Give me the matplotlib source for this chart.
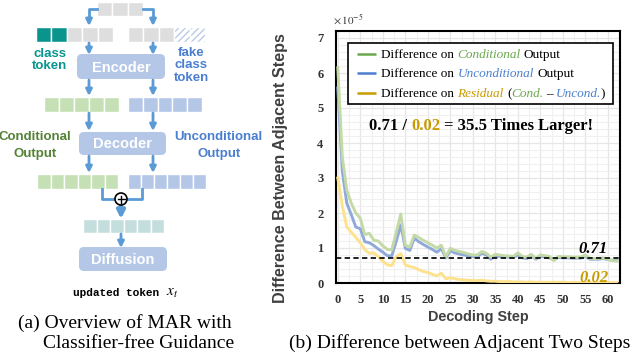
import numpy as np
import matplotlib
matplotlib.use('Agg')
import matplotlib.pyplot as plt
from matplotlib.patches import Rectangle, FancyBboxPatch, Circle

plt.rcParams['mathtext.fontset'] = 'stix'

# ---------------- data (values in units of 1e-5) ----------------
cond = [6.15, 3.60, 2.65, 2.28, 2.00, 1.85, 1.38, 1.42, 1.22, 1.20,
        1.06, 0.96, 0.95, 1.45, 1.97, 1.08, 1.03, 1.37, 1.30, 1.22,
        1.15, 1.08, 1.00, 1.08, 0.75, 0.99, 0.93, 0.90, 0.87, 0.83,
        0.80, 0.80, 0.90, 0.85, 0.74, 0.82, 0.80, 0.78, 0.77, 0.76,
        0.86, 0.76, 0.74, 0.82, 0.70, 0.80, 0.78, 0.76, 0.64, 0.76,
        0.75, 0.75, 0.74, 0.74, 0.74, 0.80, 0.70, 0.70, 0.70, 0.72,
        0.68, 0.64, 0.63]
uncond = [5.57, 3.20, 2.28, 1.95, 1.60, 1.55, 1.18, 1.15, 1.07, 0.97,
          0.88, 0.78, 0.78, 1.20, 1.66, 0.99, 0.93, 1.28, 1.18, 1.10,
          1.03, 0.96, 0.88, 0.98, 0.72, 0.92, 0.86, 0.83, 0.80, 0.78,
          0.76, 0.75, 0.85, 0.80, 0.68, 0.78, 0.76, 0.75, 0.74, 0.73,
          0.80, 0.72, 0.70, 0.78, 0.68, 0.76, 0.74, 0.72, 0.66, 0.73,
          0.72, 0.72, 0.71, 0.71, 0.71, 0.76, 0.68, 0.68, 0.68, 0.70,
          0.67, 0.65, 0.64]
resid = [3.00, 2.20, 1.60, 1.45, 1.30, 1.15, 0.95, 0.85, 0.86, 0.75,
         0.62, 0.52, 0.50, 0.75, 0.84, 0.52, 0.47, 0.44, 0.38, 0.33,
         0.30, 0.25, 0.20, 0.28, 0.12, 0.15, 0.12, 0.10, 0.09, 0.08,
         0.07, 0.07, 0.08, 0.06, 0.05, 0.05, 0.04, 0.04, 0.04, 0.03,
         0.03, 0.03, 0.02, 0.03, 0.02, 0.02, 0.02, 0.02, 0.02, 0.02,
         0.02, 0.015, 0.015, 0.015, 0.01, 0.015, 0.01, 0.01, 0.01, 0.01,
         0.01, 0.01, 0.01]
steps = list(range(len(cond)))
x_ticks = [0, 5, 10, 15, 20, 25, 30, 35, 40, 45, 50, 55, 60]
y_ticks = [0, 1, 2, 3, 4, 5, 6, 7]
cond_level = 0.71
resid_level = 0.02

GREEN_L, BLUE_L, GOLD_L = '#c4daa6', '#8fa9da', '#fde28e'
GREEN, BLUE, GOLD = '#6aa84f', '#4a7fd0', '#c89b00'
ARROW = '#5b9bd5'
BOXC = '#b4c7e7'
SERIF = 'Liberation Serif'
SANS = 'Liberation Sans'

W, H = 634, 356
fig = plt.figure(figsize=(W / 100, H / 100), dpi=100)

# ---------------- chart (b) ----------------
ax = fig.add_axes([336 / W, (H - 283) / H, 284 / W, 252 / H])
ax.plot(steps, resid, color=GOLD_L, lw=2.1, zorder=3, solid_joinstyle='round')
ax.plot(steps, uncond, color=BLUE_L, lw=2.1, zorder=4, solid_joinstyle='round')
ax.plot(steps, cond, color=GREEN_L, lw=2.1, zorder=5, solid_joinstyle='round')
ax.axhline(cond_level, color='black', lw=1.2, ls=(0, (3.2, 2.0)), zorder=6)
ax.set_xlim(-0.4, 62.7)
ax.set_ylim(0, 7.2)
ax.set_xticks(x_ticks)
ax.set_yticks(y_ticks)
ax.set_xticks(np.arange(0, 63, 2.5), minor=True)
ax.set_yticks(np.arange(0, 7.2, 0.2), minor=True)
ax.set_xticklabels([str(t) for t in x_ticks], fontfamily=SERIF, fontweight='bold',
                   fontsize=9, color='#333333')
ax.set_yticklabels([str(t) for t in y_ticks], fontfamily=SERIF, fontweight='bold',
                   fontsize=9, color='#333333')
ax.tick_params(which='both', length=0)
ax.tick_params(axis='x', pad=8)
ax.tick_params(axis='y', pad=9)
ax.grid(which='major', color='#e6e6e6', lw=0.9)
ax.grid(which='minor', color='#f0f0f0', lw=0.8)
ax.set_axisbelow(True)
for s in ax.spines.values():
    s.set_linewidth(1.5)
    s.set_color('black')
ax.set_ylabel('Difference Between Adjacent Steps', fontfamily=SANS, fontweight='bold',
              fontsize=11.6, color='#404040')
ax.yaxis.set_label_coords(-0.169, 0.455)
ax.set_xlabel('Decoding Step', fontfamily=SANS, fontweight='bold', fontsize=10.4,
              color='#404040')
ax.xaxis.set_label_coords(0.5, -0.108)
ax.text(60.0, cond_level + 0.14, f'{cond_level:.2f}', ha='right', va='baseline',
        fontfamily=SERIF, fontstyle='italic', fontweight='bold', fontsize=12,
        color='black', zorder=7)
ax.text(60.1, resid_level + 0.02, f'{resid_level:.2f}', ha='right', va='baseline',
        fontfamily=SERIF, fontstyle='italic', fontweight='bold', fontsize=12,
        color=GOLD, zorder=7)

# ---------------- overlay (pixel coordinates) ----------------
ov = fig.add_axes([0, 0, 1, 1], zorder=10)
ov.set_xlim(0, W)
ov.set_ylim(H, 0)
ov.axis('off')
ov.patch.set_alpha(0)
renderer = fig.canvas.get_renderer()


def measure(s, **kw):
    t = ov.text(0, 0, s, **kw)
    w = t.get_window_extent(renderer=renderer).width
    t.remove()
    return w


def rich(x, y, pieces, align='left', **base):
    """pieces: (text, color, style, space_before as fraction of a space)"""
    sp = measure('a a', **base) - measure('aa', **base)
    widths = []
    for txt, col, sty, gap in pieces:
        kw = dict(base)
        kw['fontstyle'] = sty
        widths.append(measure(txt, **kw))
    total = sum(widths) + sp * sum(p[3] for p in pieces)
    cx = x - total / 2 if align == 'center' else x
    for (txt, col, sty, gap), w in zip(pieces, widths):
        cx += sp * gap
        kw = dict(base)
        kw['fontstyle'] = sty
        ov.text(cx, y, txt, color=col, ha='left', va='baseline', **kw)
        cx += w


# x10^-5
ov.text(333, 24, r'$\times\,10^{-5}$', fontsize=8, color='#333333', ha='left',
        va='baseline')

# legend
ov.add_patch(Rectangle((348, 43), 265, 61, fc='white', ec='black', lw=1.2))
leg_y = [54, 73, 93]
for yy, c in zip(leg_y, [GREEN, BLUE, GOLD]):
    ov.plot([357, 376], [yy, yy], color=c, lw=1.8, solid_capstyle='butt')
lkw = dict(fontfamily=SERIF, fontsize=9.5)
rich(381, leg_y[0] + 4, [('Difference on', 'black', 'normal', 0),
                         ('Conditional', GREEN, 'italic', 1),
                         ('Output', 'black', 'normal', 1)], **lkw)
rich(381, leg_y[1] + 4, [('Difference on', 'black', 'normal', 0),
                         ('Unconditional', BLUE, 'italic', 1),
                         ('Output', 'black', 'normal', 1)], **lkw)
rich(381, leg_y[2] + 4, [('Difference on', 'black', 'normal', 0),
                         ('Residual', GOLD, 'italic', 1),
                         ('(', 'black', 'normal', 1),
                         ('Cond.', GREEN, 'italic', 0),
                         ('\u2013', 'black', 'normal', 0.6),
                         ('Uncond.', BLUE, 'italic', 1),
                         (')', 'black', 'normal', 0)], **lkw)

# headline
rich(481, 130, [(f'{cond_level:.2f} /', 'black', 'normal', 0),
                (f'{resid_level:.2f}', GOLD, 'normal', 1),
                ('= 35.5 Times Larger!', 'black', 'normal', 1)],
     align='center', fontfamily=SERIF, fontweight='bold', fontsize=12)

# captions
ov.text(460, 348, '(b) Difference between Adjacent Two Steps', fontfamily=SERIF,
        fontsize=14, ha='center', va='baseline', color='black')
ov.text(18, 328, '(a) Overview of MAR with', fontfamily=SERIF, fontsize=14,
        ha='left', va='baseline', color='black')
ov.text(43, 348, 'Classifier-free Guidance', fontfamily=SERIF, fontsize=14,
        ha='left', va='baseline', color='black')

# ---------------- diagram (a) ----------------
def cells(x0, x1, y0, y1, colors, hatch_idx=()):
    n = len(colors)
    w = (x1 - x0) / n
    for i, c in enumerate(colors):
        if i in hatch_idx:
            ov.add_patch(Rectangle((x0 + i * w, y0), w, y1 - y0, fc='white',
                                   ec='#b9cbe9', lw=0, hatch='/////'))
            ov.add_patch(Rectangle((x0 + i * w, y0), w, y1 - y0, fill=False,
                                   ec='white', lw=1.0))
        else:
            ov.add_patch(Rectangle((x0 + i * w, y0), w, y1 - y0, fc=c,
                                   ec='white', lw=1.0))


def arrow(x, y0, y1, lw=2.0, ms=9):
    ov.annotate('', xy=(x, y1), xytext=(x, y0),
                arrowprops=dict(arrowstyle='-|>', color=ARROW, lw=lw,
                                mutation_scale=ms, shrinkA=0, shrinkB=0))


def box(x0, x1, y0, y1, label):
    ov.add_patch(FancyBboxPatch((x0, y0), x1 - x0, y1 - y0,
                                boxstyle='round,pad=0,rounding_size=5',
                                fc=BOXC, ec='none'))
    ov.text((x0 + x1) / 2, (y0 + y1) / 2 + 1, label, color='white',
            fontfamily=SANS, fontweight='bold', fontsize=10.5, ha='center',
            va='center')


GRAY = '#dedede'
TEAL = '#0a948e'
GCELL = '#c5e0b4'
BCELL = '#b4c7e7'
MCELL = '#c4dedd'
LX, RX, CX = 89, 153, 121

cells(97, 143, 2, 16, [GRAY] * 3)
ov.plot([97, LX, LX], [9, 9, 19], color=ARROW, lw=2.0)
ov.plot([143, RX, RX], [9, 9, 19], color=ARROW, lw=2.0)
arrow(LX, 18, 26)
arrow(RX, 18, 26)

cells(36, 113, 27, 42, [TEAL, TEAL, GRAY, GRAY, GRAY])
cells(128, 205, 27, 42, [GRAY, GRAY, GRAY, 'w', 'w'], hatch_idx=(3, 4))
arrow(LX, 43, 55)
arrow(RX, 43, 55)

tkw = dict(fontfamily=SANS, fontweight='bold', fontsize=9.5, ha='center', va='center')
ov.text(50, 54, 'class', color=TEAL, **tkw)
ov.text(50, 66, 'token', color=TEAL, **tkw)
ov.text(191, 53, 'fake', color=BLUE, **tkw)
ov.text(191, 65, 'class', color=BLUE, **tkw)
ov.text(191, 78, 'token', color=BLUE, **tkw)

box(77, 165, 54, 79, 'Encoder')
arrow(LX, 80, 96)
arrow(RX, 80, 96)
cells(44, 119, 97, 112, [GCELL] * 5)
cells(128, 202, 97, 112, [BCELL] * 5)
arrow(LX, 113, 131)
arrow(RX, 113, 131)

ov.text(35, 137, 'Conditional', color='#548235', **tkw)
ov.text(35, 154, 'Output', color='#548235', **tkw)
ov.text(218, 137, 'Unconditional', color=BLUE, **tkw)
ov.text(219, 154, 'Output', color=BLUE, **tkw)

box(79, 166, 132, 155, 'Decoder')
arrow(LX, 156, 173)
arrow(RX, 156, 173)
cells(37, 118, 174, 189, [GCELL] * 6)
cells(128, 206, 174, 189, [BCELL] * 6)

ov.plot([102, 102, 115], [189, 199, 199], color=ARROW, lw=2.0)
ov.plot([142, 142, 127], [189, 199, 199], color=ARROW, lw=2.0)
ov.add_patch(Circle((CX, 199), 6, fc='white', ec='black', lw=1.2, zorder=5))
ov.plot([CX - 3.5, CX + 3.5], [199, 199], color='black', lw=1.0, zorder=6)
ov.plot([CX, CX], [195.5, 202.5], color='black', lw=1.0, zorder=6)
arrow(CX, 205, 219, lw=3.0, ms=11)

cells(83, 164, 219, 233, [MCELL] * 6)
arrow(CX, 234, 248)
box(79, 167, 247, 271, 'Diffusion')

ov.text(73, 296, 'updated token', fontfamily='Liberation Mono', fontweight='bold',
        fontsize=8, ha='left', va='baseline', color='black')
ov.text(166, 296, r'$x_t$', fontsize=11, ha='left', va='baseline', color='black')

fig.savefig('out.png', dpi=100)
